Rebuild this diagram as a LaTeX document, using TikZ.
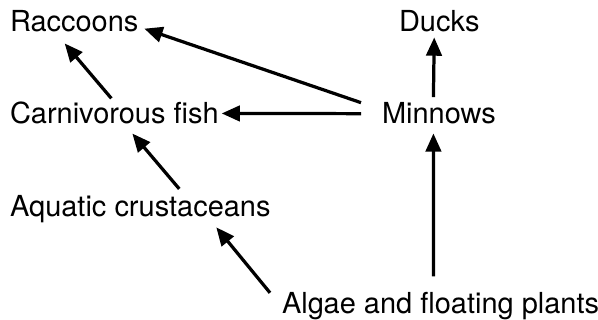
\documentclass[tikz,border=0pt]{standalone}
\usepackage{fontspec}
\setmainfont{TeX Gyre Heros}
\usetikzlibrary{arrows.meta}

\begin{document}
\begin{tikzpicture}[x=0.025cm,y=-0.025cm,>={Triangle[length=13pt,width=11pt]},
  organism/.style={anchor=base west,inner sep=0pt,outer sep=0pt,font=\fontsize{20.6}{24}\selectfont},
  feeds/.style={->,line width=2.3pt}]
  % Frame of the whole web.
  \useasboundingbox (0,0) rectangle (598,320);
  % Organisms, set on their baselines.
  \node[organism] (raccoons) at (10,32) {Raccoons};
  \node[organism] (ducks) at (399,32) {Ducks};
  \node[organism] (fish) at (10,124) {Carnivorous fish};
  \node[organism] (minnows) at (382,124) {Minnows};
  \node[organism] (crust) at (10,217) {Aquatic crustaceans};
  \node[organism] (algae) at (282,313) {Algae and floating plants};
  % Who is eaten by whom.
  \draw[feeds] ([shift={(-5.5,-5.8)}]minnows.north) -- ([shift={(-5,5)}]ducks.south);
  \draw[feeds] ([shift={(-7,-15.4)}]algae.north) -- ([shift={(-5.5,9)}]minnows.south);
  \draw[feeds] ([shift={(-21,0)}]minnows.west) -- ([shift={(3,0)}]fish.east);
  \draw[feeds] ([shift={(-21,-11)}]minnows.west) -- ([shift={(6,7)}]raccoons.east);
  \draw[feeds] ([shift={(-3,-4)}]fish.north) -- ([shift={(-9.5,11)}]raccoons.south);
  \draw[feeds] ([shift={(39,-7)}]crust.north) -- ([shift={(18,9)}]fish.south);
  \draw[feeds] ([shift={(-12,1)}]algae.north west) -- ([shift={(76,4)}]crust.south);
\end{tikzpicture}
\end{document}
